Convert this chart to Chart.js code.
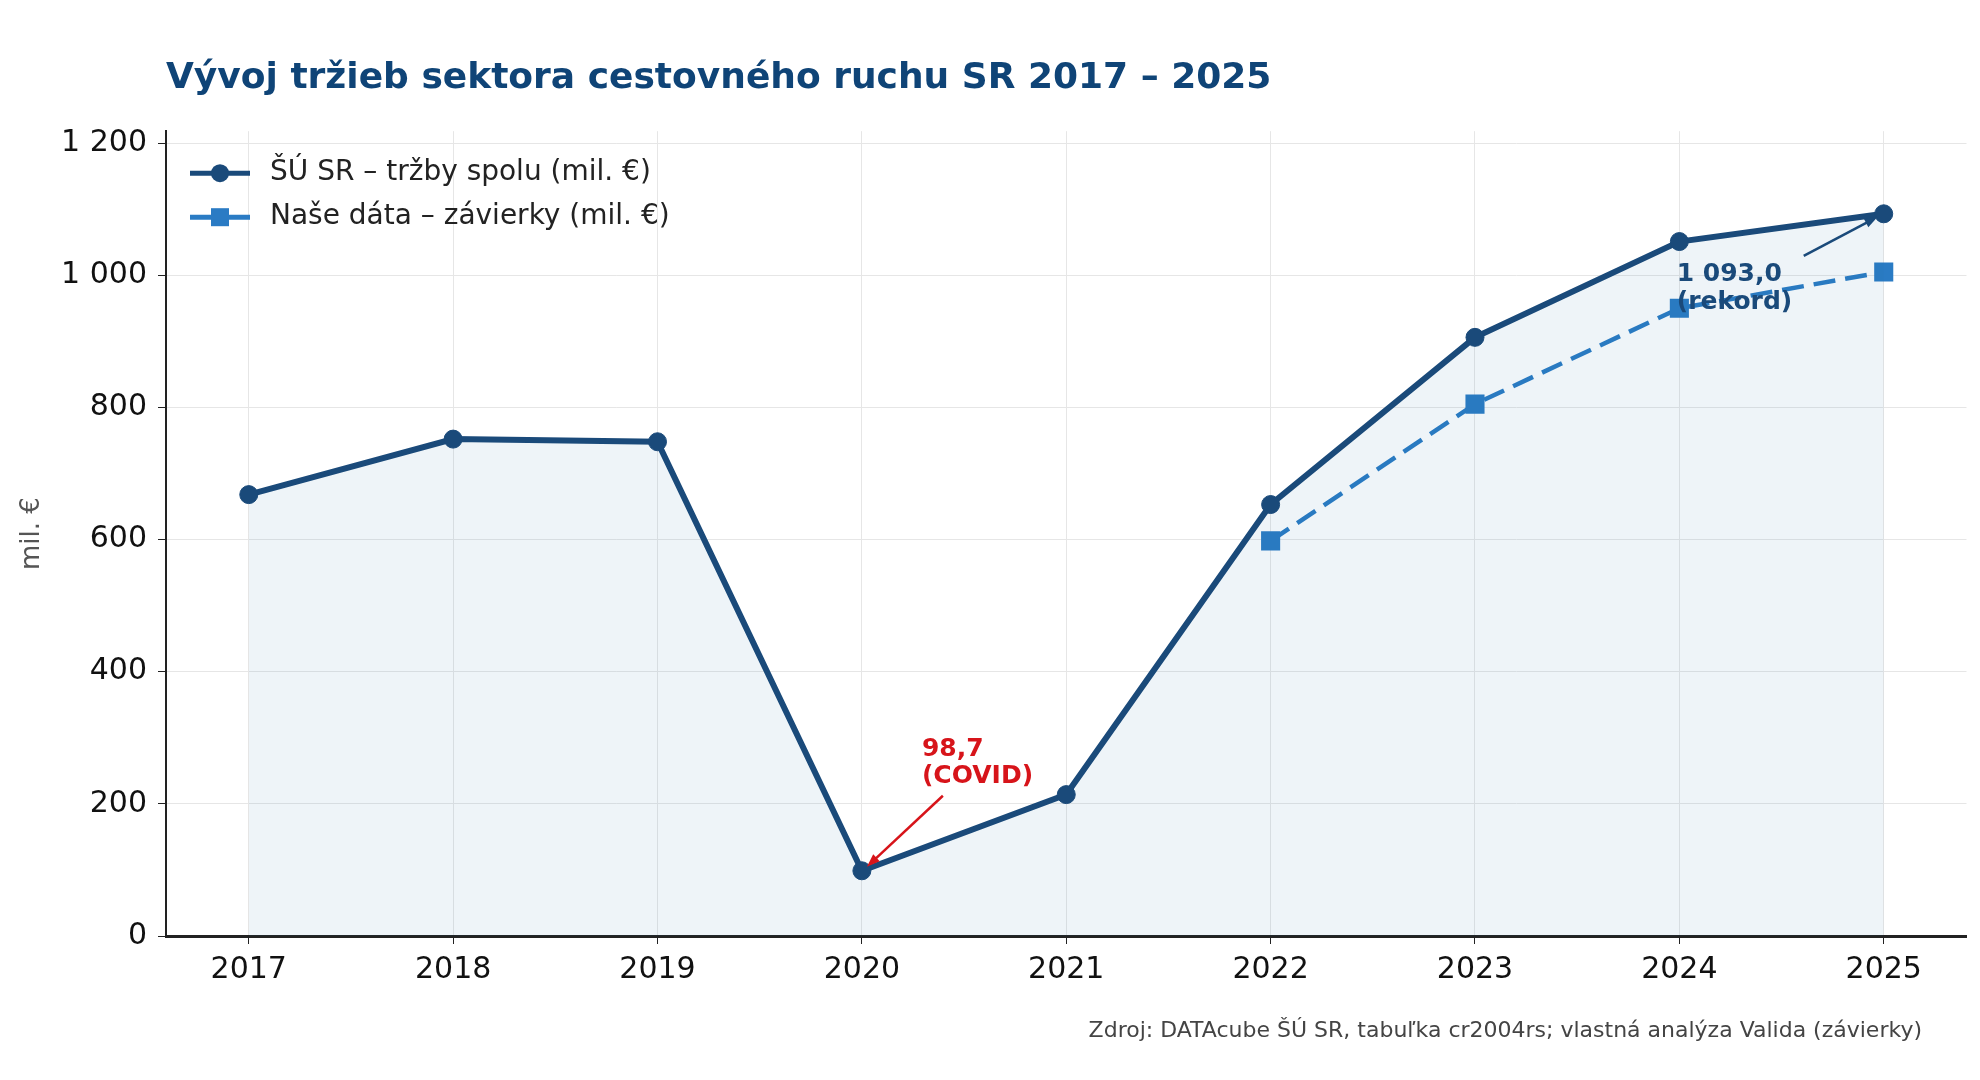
<!DOCTYPE html>
<html lang="sk">
<head>
<meta charset="utf-8">
<title>Vývoj tržieb sektora cestovného ruchu SR</title>
<script src="https://cdn.jsdelivr.net/npm/chart.js@4.4.1/dist/chart.umd.min.js"></script>
<style>
  html, body { margin: 0; padding: 0; background: #fff; }
  #wrap { width: 1980px; height: 1080px; position: relative; }
</style>
</head>
<body>
<div id="wrap"><canvas id="trzbyChart"></canvas></div>
<script>
// data
const years = [2017, 2018, 2019, 2020, 2021, 2022, 2023, 2024, 2025];
const suSr = [668, 752, 748, 98.7, 214, 653, 906, 1051, 1093.0];
const naseData = [null, null, null, null, null, 598, 805, 950, 1005];
const yTicks = [0, 200, 400, 600, 800, 1000, 1200];

const seriesNames = ["ŠÚ SR – tržby spolu (mil. €)", "Naše dáta – závierky (mil. €)"];
const titleText = "Vývoj tržieb sektora cestovného ruchu SR 2017 – 2025";
const sourceText = "Zdroj: DATAcube ŠÚ SR, tabuľka cr2004rs; vlastná analýza Valida (závierky)";
const notes = [
  { year: 2020, value: 98.7, lines: ["98,7", "(COVID)"], color: "#d7141a" },
  { year: 2025, value: 1093.0, lines: ["1 093,0", "(rekord)"], color: "#1a4a7a" },
];

const NAVY = "#1a4a7a";
const BLUE = "#2a7bc4";
const FONT = "'DejaVu Sans', 'Liberation Sans', sans-serif";

function fmtThousands(v) {
  return String(v).replace(/\B(?=(\d{3})+(?!\d))/g, " ");
}

function toPoints(values) {
  return years
    .map((y, i) => ({ x: y, y: values[i] }))
    .filter((p) => p.y !== null);
}

function drawArrow(ctx, x1, y1, x2, y2, color) {
  const ang = Math.atan2(y2 - y1, x2 - x1);
  const head = 14;
  ctx.save();
  ctx.strokeStyle = color;
  ctx.fillStyle = color;
  ctx.lineWidth = 2.5;
  ctx.beginPath();
  ctx.moveTo(x1, y1);
  ctx.lineTo(x2 - Math.cos(ang) * head * 0.7, y2 - Math.sin(ang) * head * 0.7);
  ctx.stroke();
  ctx.beginPath();
  ctx.moveTo(x2, y2);
  ctx.lineTo(x2 - head * Math.cos(ang - 0.35), y2 - head * Math.sin(ang - 0.35));
  ctx.lineTo(x2 - head * Math.cos(ang + 0.35), y2 - head * Math.sin(ang + 0.35));
  ctx.closePath();
  ctx.fill();
  ctx.restore();
}

// annotations, legend and source line
const extras = {
  id: "extras",
  afterDatasetsDraw(chart) {
    const ctx = chart.ctx;
    const xs = chart.scales.x;
    const ys = chart.scales.y;

    // COVID note
    const a = notes[0];
    const ax = xs.getPixelForValue(a.year);
    const ay = ys.getPixelForValue(a.value);
    ctx.save();
    ctx.font = "bold 25px " + FONT;
    ctx.fillStyle = a.color;
    ctx.textBaseline = "middle";
    ctx.fillText(a.lines[0], ax + 60, ay - 121);
    ctx.fillText(a.lines[1], ax + 60, ay - 94);
    ctx.restore();
    drawArrow(ctx, ax + 81, ay - 75, ax + 5, ay - 4, a.color);

    // record note
    const b = notes[1];
    const bx = xs.getPixelForValue(b.year);
    const by = ys.getPixelForValue(b.value);
    drawArrow(ctx, bx - 80, by + 42, bx - 6, by + 3, b.color);
    ctx.save();
    ctx.font = "bold 25px " + FONT;
    ctx.fillStyle = b.color;
    ctx.textBaseline = "middle";
    ctx.fillText(b.lines[0], bx - 207, by + 61);
    ctx.fillText(b.lines[1], bx - 207, by + 89);
    ctx.restore();
  },
  afterDraw(chart) {
    const ctx = chart.ctx;
    const area = chart.chartArea;

    // legend
    const rows = [
      { y: area.top + 42, color: NAVY, style: "circle" },
      { y: area.top + 86, color: BLUE, style: "rect" },
    ];
    rows.forEach((r, i) => {
      const x0 = area.left + 24;
      ctx.save();
      ctx.strokeStyle = r.color;
      ctx.lineWidth = 5;
      ctx.beginPath();
      ctx.moveTo(x0, r.y);
      ctx.lineTo(x0 + 60, r.y);
      ctx.stroke();
      ctx.fillStyle = r.color;
      if (r.style === "circle") {
        ctx.beginPath();
        ctx.arc(x0 + 30, r.y, 9, 0, Math.PI * 2);
        ctx.fill();
      } else {
        ctx.fillRect(x0 + 21, r.y - 9, 18, 18);
      }
      ctx.fillStyle = "#222";
      ctx.font = "28px " + FONT;
      ctx.textBaseline = "middle";
      ctx.fillText(seriesNames[i], x0 + 80, r.y);
      ctx.restore();
    });

    // source
    ctx.save();
    ctx.font = "22px " + FONT;
    ctx.fillStyle = "#444";
    ctx.textAlign = "right";
    ctx.textBaseline = "middle";
    ctx.fillText(sourceText, 1922, 1031);
    ctx.restore();
  },
};

const ctx = document.getElementById("trzbyChart");

new Chart(ctx, {
  type: "line",
  data: {
    datasets: [
      {
        label: seriesNames[0],
        data: toPoints(suSr),
        borderColor: NAVY,
        backgroundColor: "rgba(40, 110, 170, 0.08)",
        borderWidth: 6,
        fill: "origin",
        tension: 0,
        pointStyle: "circle",
        pointRadius: 9,
        pointBackgroundColor: NAVY,
        pointBorderColor: NAVY,
        pointBorderWidth: 1,
        order: 1,
      },
      {
        label: seriesNames[1],
        data: toPoints(naseData),
        borderColor: BLUE,
        borderWidth: 4.5,
        borderDash: [22, 10],
        fill: false,
        tension: 0,
        pointStyle: "rect",
        pointRadius: 13.5,
        pointBackgroundColor: BLUE,
        pointBorderColor: BLUE,
        pointBorderWidth: 0,
        order: 2,
      },
    ],
  },
  options: {
    responsive: true,
    maintainAspectRatio: false,
    animation: false,
    devicePixelRatio: 1,
    layout: {
      padding: { left: 0, right: 9, top: 0, bottom: 84 },
    },
    plugins: {
      legend: { display: false },
      tooltip: { enabled: false },
      title: {
        display: true,
        text: titleText,
        align: "start",
        fullSize: false,
        color: "#0f4477",
        font: { family: FONT, size: 36, weight: "bold" },
        padding: { top: 57, bottom: 31 },
      },
    },
    scales: {
      x: {
        type: "linear",
        min: 2016.595,
        max: 2025.405,
        afterBuildTicks: (scale) => {
          scale.ticks = years.map((v) => ({ value: v }));
        },
        ticks: {
          color: "#111",
          font: { family: FONT, size: 30 },
          padding: 8,
          maxRotation: 0,
          callback: (value) => String(value),
        },
        grid: {
          color: "#e6e6e6",
          lineWidth: 1,
          drawTicks: true,
          tickLength: 8,
          tickColor: "#222",
        },
        border: { color: "#222", width: 3 },
      },
      y: {
        min: 0,
        max: 1218,
        afterBuildTicks: (scale) => {
          scale.ticks = yTicks.map((v) => ({ value: v }));
        },
        afterFit: (scale) => {
          scale.width = 166;
        },
        ticks: {
          color: "#111",
          font: { family: FONT, size: 30 },
          padding: 11,
          callback: (value) => fmtThousands(value),
        },
        grid: {
          color: "#e6e6e6",
          lineWidth: 1,
          drawTicks: true,
          tickLength: 8,
          tickColor: "#222",
        },
        border: { color: "#222", width: 2 },
        title: {
          display: true,
          text: "mil. €",
          color: "#555",
          font: { family: FONT, size: 26 },
          padding: { top: 17, bottom: 4 },
        },
      },
    },
  },
  plugins: [extras],
});
</script>
</body>
</html>
